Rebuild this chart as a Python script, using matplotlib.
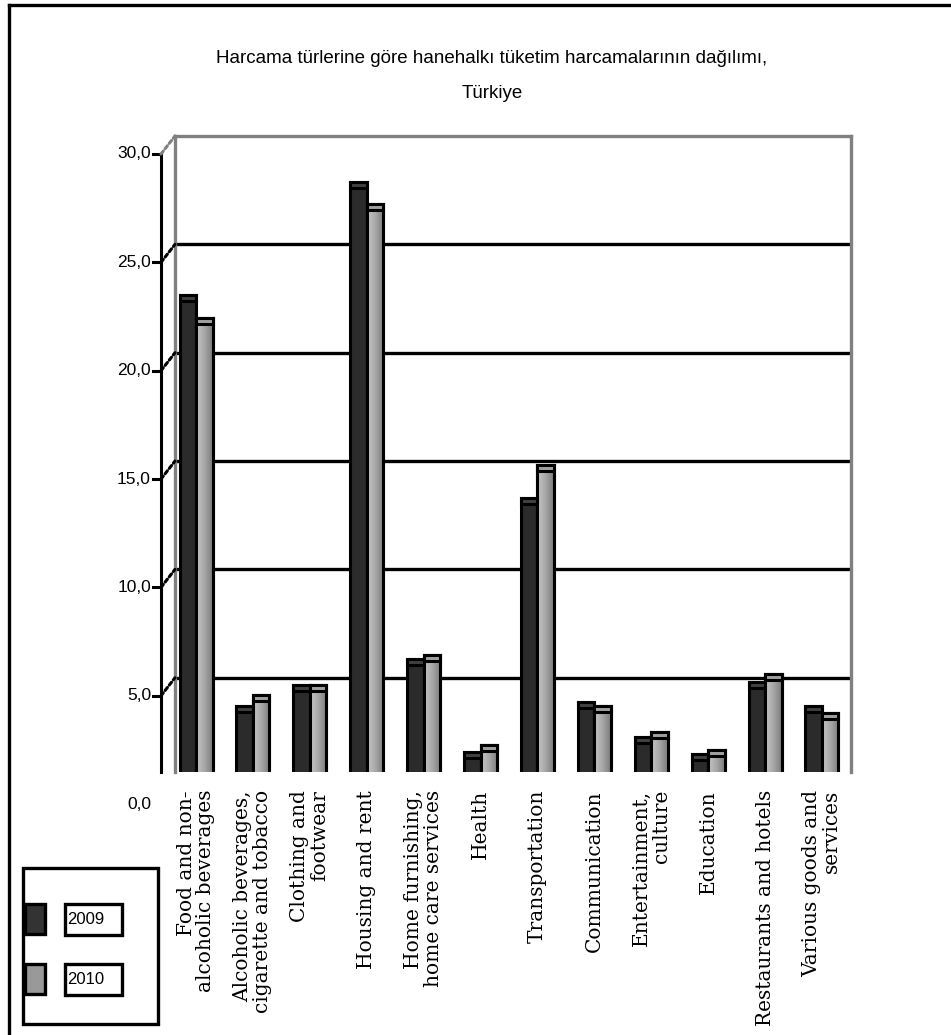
import numpy as np
import matplotlib
matplotlib.use('Agg')
import matplotlib.pyplot as plt
from matplotlib.colors import LinearSegmentedColormap
from matplotlib.lines import Line2D
from matplotlib.patches import Rectangle
from matplotlib.transforms import offset_copy

# expenditure shares (%) by group
categories = [
    'Food and non-\nalcoholic beverages',
    'Alcoholic beverages,\ncigarette and tobacco',
    'Clothing and\nfootwear',
    'Housing and rent',
    'Home furnishing,\nhome care services',
    'Health',
    'Transportation',
    'Communication',
    'Entertainment,\nculture',
    'Education',
    'Restaurants and hotels',
    'Various goods and\nservices',
]
years = ['2009', '2010']
share_2009 = [23.1, 4.1, 5.1, 28.3, 6.3, 2.0, 13.7, 4.3, 2.7, 1.9, 5.2, 4.1]
share_2010 = [22.0, 4.6, 5.1, 27.3, 6.45, 2.3, 15.25, 4.1, 2.9, 2.1, 5.6, 3.8]
yticks = [0, 5, 10, 15, 20, 25, 30]
title = 'Harcama türlerine göre hanehalkı tüketim harcamalarının dağılımı,\nTürkiye'

sans = ['Liberation Sans Narrow', 'Liberation Sans', 'DejaVu Sans']
serif = ['DejaVu Serif', 'Liberation Serif']

W, H = 951, 1035
fig = plt.figure(figsize=(W / 100, H / 100), dpi=100)


def fx(px):
    return px / W


def fy(py):
    return 1 - py / H


# back wall of the 3d box, pixel edges
wl, wt, wr, wb = 175, 136, 851, 772
ymin, ymax = 0.65, 30
ax = fig.add_axes([fx(wl), fy(wb), fx(wr - wl), (wb - wt) / H])
ax.set_xticks([])
ax.set_yticks([])
for side in ['left', 'right', 'top']:
    ax.spines[side].set_color('#808080')
    ax.spines[side].set_linewidth(2.4)
ax.spines['bottom'].set_visible(False)

ppu = (wb - wt) / (ymax - ymin)   # pixels per percent
depth = 9                         # pixel shift between depth planes

for v in yticks[1:-1]:
    ax.axhline(v, color='black', lw=2.4, zorder=1)

bar_trans = offset_copy(ax.transData, fig=fig, x=0, y=-depth, units='dots')
front_trans = offset_copy(ax.get_yaxis_transform(), fig=fig, x=0, y=-2 * depth, units='dots')

x = np.arange(len(categories))
w = 0.29
cap = 6 / ppu
base = ymin + depth / ppu          # lowest visible level in the bar plane
grad_cmap = LinearSegmentedColormap.from_list('g', ['#c6c6c6', '#a8a8a8', '#7c7c7c'])
grad = np.linspace(0, 1, 40).reshape(1, -1)

for vals, off, face, capc, shade in [(share_2009, -w / 2, '#2b2b2b', '#404040', False),
                                     (share_2010, w / 2, '#a9a9a9', '#a0a0a0', True)]:
    bars = ax.bar(x + off, vals, width=w, bottom=0, color=face, edgecolor='black',
                  lw=2.2, transform=bar_trans, zorder=3)
    for rect, v in zip(bars, vals):
        if shade:
            x0 = rect.get_x()
            im = ax.imshow(grad, extent=[x0, x0 + w, base, v], aspect='auto', cmap=grad_cmap,
                           transform=bar_trans, zorder=3.1, interpolation='nearest')
            im.set_clip_path(rect)
            ax.add_patch(Rectangle((x0, 0), w, v, fill=False, edgecolor='black', lw=2.2,
                                   transform=bar_trans, zorder=3.2))
        ax.add_patch(Rectangle((rect.get_x(), v - cap), w, cap, facecolor=capc,
                               edgecolor='black', lw=2.2, transform=bar_trans, zorder=3.3))

ax.set_xlim(-0.37, 11.51)
ax.set_ylim(ymin, ymax)

# front value axis with connectors to the back wall
axis_dx = -14 / (wr - wl)
low = ymin + 2 * depth / ppu
ax.plot([axis_dx, axis_dx], [low, 30], color='black', lw=2.2,
        transform=front_trans, clip_on=False)
for v in yticks:
    col = '#808080' if v == 30 else 'black'
    if v > 0:
        ax.plot([axis_dx - 8 / (wr - wl), axis_dx], [v, v], color='black', lw=2.2,
                transform=front_trans, clip_on=False)
        ax.annotate('', xy=(0, v), xycoords=ax.get_yaxis_transform(),
                    xytext=(-14, -2 * depth), textcoords='offset pixels',
                    arrowprops=dict(arrowstyle='-', color=col, lw=2.2, ls=(0, (1.2, 1)),
                                    shrinkA=0, shrinkB=0), annotation_clip=False)
    ax.text(axis_dx - 10 / (wr - wl), v, f'{v:.1f}'.replace('.', ','), ha='right',
            va='center', fontsize=12.5, family=sans, transform=front_trans, clip_on=False)

# category labels, rotated under each group
label_trans = offset_copy(ax.get_xaxis_transform(), fig=fig, x=0, y=-18, units='dots')
for xi, lab in zip(x, categories):
    ax.text(xi, 0, lab, rotation=90, ha='center', va='top', multialignment='right',
            fontsize=14.5, family=serif, transform=label_trans, linespacing=1.05)

fig.text(fx(492), fy(76), title, ha='center', va='center', fontsize=13.5,
         family=sans, linespacing=2.4)

# chart frame (top and left edges)
fig.add_artist(Line2D([fx(9), fx(951)], [fy(5), fy(5)], color='black', lw=2.4))
fig.add_artist(Line2D([fx(9), fx(9)], [fy(5), fy(1035)], color='black', lw=2.4))

# legend box
fig.add_artist(Rectangle((fx(23), fy(1024)), fx(135), (1024 - 868) / H, fill=False,
                         edgecolor='black', lw=2.4))
for yr, face, ytop in [(years[0], '#333333', 904), (years[1], '#999999', 964)]:
    fig.add_artist(Rectangle((fx(25), fy(ytop + 30)), fx(20), 30 / H, facecolor=face,
                             edgecolor='black', lw=2.4))
    fig.add_artist(Rectangle((fx(65), fy(ytop + 31)), fx(57), 31 / H, facecolor='white',
                             edgecolor='black', lw=2.4))
    fig.text(fx(67), fy(ytop + 15), yr, ha='left', va='center', fontsize=12, family=sans)

fig.savefig('out.png', dpi=100)
